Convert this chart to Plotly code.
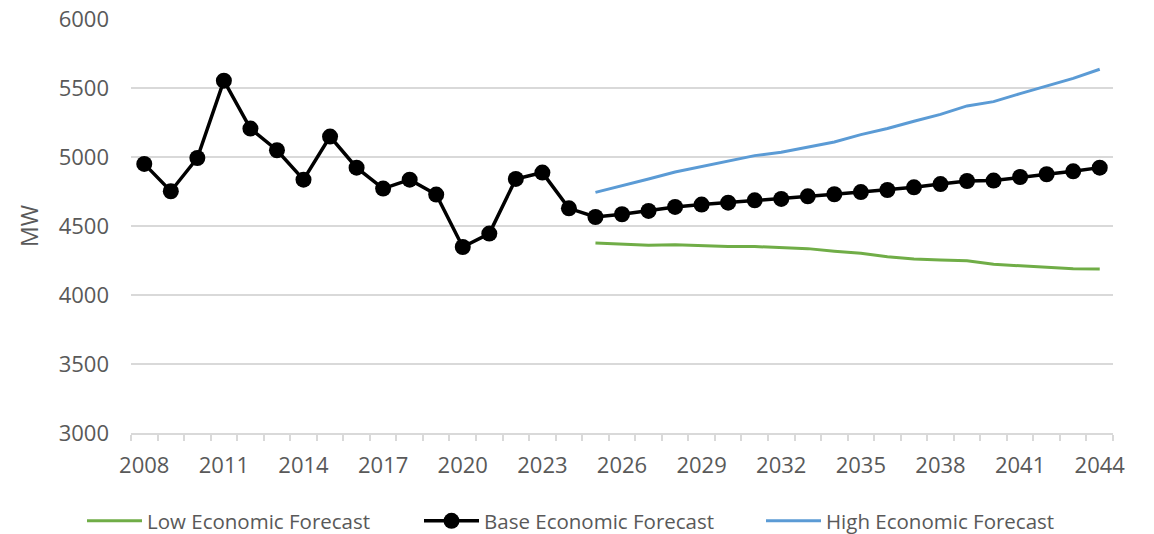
import plotly.graph_objects as go

hist_years = list(range(2008, 2025))
forecast_years = list(range(2025, 2045))

base_hist = [4950, 4752, 4993, 5553, 5206, 5049, 4836, 5148, 4923, 4771, 4836, 4728,
             4348, 4445, 4841, 4887, 4628]
base_fc = [4565, 4585, 4609, 4638, 4655, 4669, 4686, 4696, 4715, 4730, 4746, 4761,
           4780, 4804, 4826, 4829, 4855, 4875, 4896, 4923]
low_fc = [4377, 4367, 4360, 4365, 4358, 4351, 4351, 4341, 4336, 4317, 4302, 4278,
          4261, 4254, 4249, 4222, 4210, 4203, 4191, 4188]
high_fc = [4744, 4795, 4841, 4891, 4930, 4969, 5010, 5034, 5073, 5109, 5162, 5206,
           5259, 5309, 5370, 5401, 5459, 5517, 5570, 5636]

tick_years = list(range(2008, 2045, 3))
y_ticks = [3000, 3500, 4000, 4500, 5000, 5500, 6000]

GREEN = "#70AD47"
BLUE = "#5B9BD5"
TEXT = "#595959"
GRID = "#D9D9D9"
FONT = "Open Sans"

fig = go.Figure()
fig.add_trace(go.Scatter(x=forecast_years, y=low_fc, mode="lines", name="Low Economic Forecast",
                         line=dict(color=GREEN, width=3), legend="legend"))
fig.add_trace(go.Scatter(x=hist_years + forecast_years, y=base_hist + base_fc, mode="lines+markers",
                         name="Base Economic Forecast",
                         line=dict(color="black", width=3.5),
                         marker=dict(color="black", size=16), legend="legend2"))
fig.add_trace(go.Scatter(x=forecast_years, y=high_fc, mode="lines", name="High Economic Forecast",
                         line=dict(color=BLUE, width=3), legend="legend3"))


def leg(px_left):
    return dict(orientation="h", x=px_left / 1154, xanchor="left", xref="container",
                y=13 / 534, yanchor="middle", yref="container",
                font=dict(size=20.5, color=TEXT), itemwidth=55, bgcolor="rgba(0,0,0,0)")


fig.update_layout(
    width=1154, height=534,
    margin=dict(l=131, r=41, t=19, b=101),
    paper_bgcolor="white", plot_bgcolor="white",
    font=dict(family=FONT, color=TEXT, size=22),
    showlegend=True,
    legend=leg(82),
    legend2=leg(419),
    legend3=leg(761),
    xaxis=dict(range=[2007.5, 2044.5], tickvals=tick_years, ticks="", showgrid=False,
               showline=True, linecolor=GRID, linewidth=1.5, zeroline=False,
               automargin=False,
               tickfont=dict(size=22, color=TEXT), ticklabelstandoff=12,
               minor=dict(dtick=1, tick0=2007.5, ticks="outside", ticklen=6,
                          tickcolor=GRID, tickwidth=1.5, showgrid=False)),
    yaxis=dict(range=[3000, 6000], tickvals=y_ticks, showgrid=True, gridcolor=GRID,
               gridwidth=1.5, zeroline=False, showline=False, ticks="", automargin=False,
               tickfont=dict(size=22, color=TEXT), ticklabelstandoff=21,
               title=dict(text="MW", font=dict(size=23, color=TEXT), standoff=13)),
)

fig.write_html("out.html")
